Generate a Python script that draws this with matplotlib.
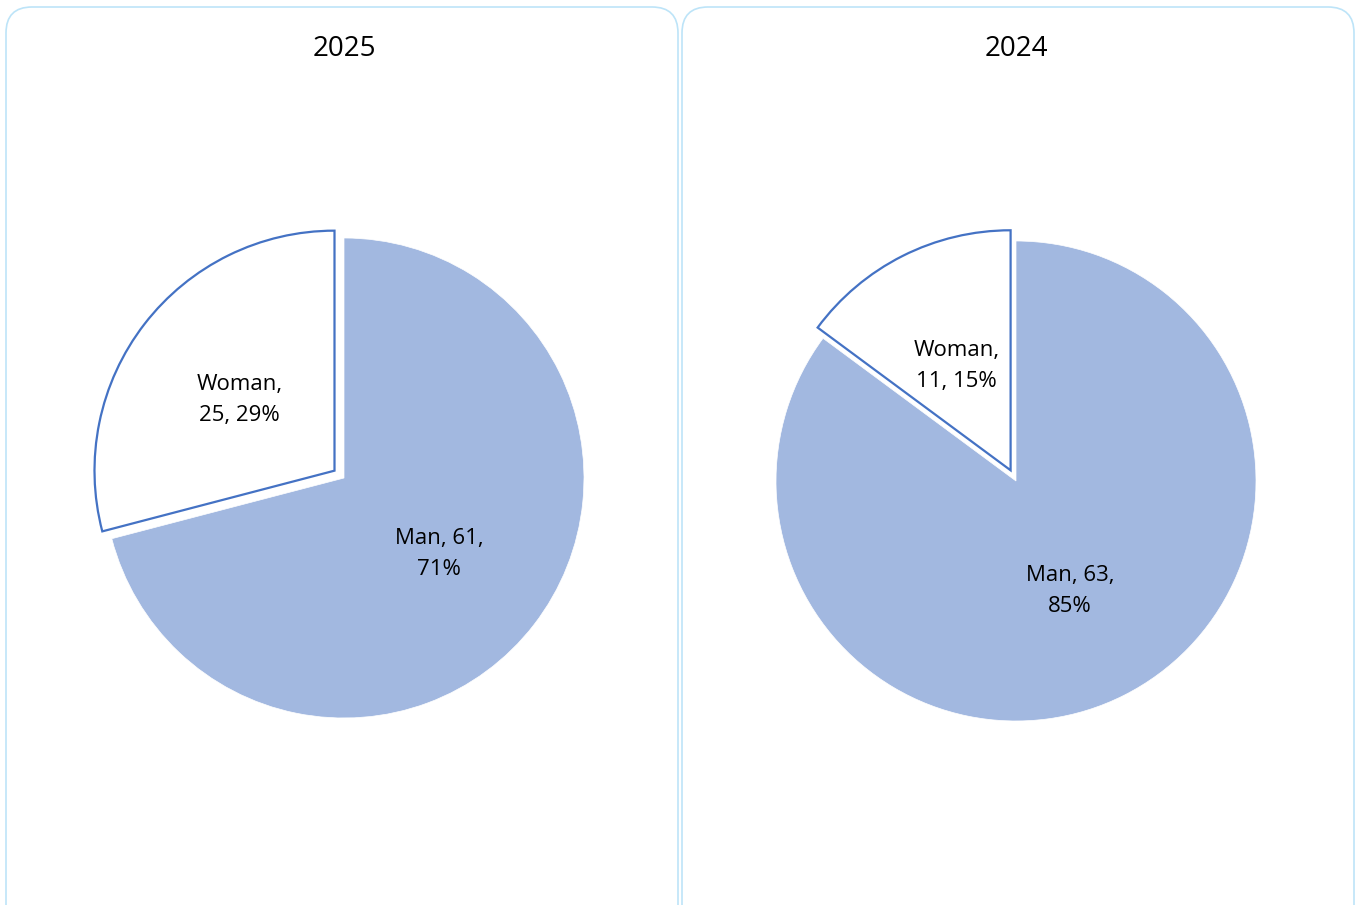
import numpy as np
import matplotlib
matplotlib.use("Agg")
import matplotlib.pyplot as plt
from matplotlib.patches import FancyBboxPatch

W, H = 1362, 905

years = ["2025", "2024"]
categories = ["Man", "Woman"]
counts_2025 = [61, 25]
counts_2024 = [63, 11]
pcts_2025 = [71, 29]
pcts_2024 = [85, 15]

man_color = "#A2B8E0"
line_blue = "#4472C4"
frame_blue = "#BDE4F8"

plt.rcParams["font.family"] = ["Open Sans", "DejaVu Sans"]

fig = plt.figure(figsize=(W / 100, H / 100), dpi=100)
fig.patch.set_facecolor("white")

# background axes in pixel units for the rounded panel frames
bg = fig.add_axes([0, 0, 1, 1], zorder=-1)
bg.set_xlim(0, W)
bg.set_ylim(H, 0)
bg.axis("off")
for x0, x1 in [(6, 678), (682, 1354)]:
    box = FancyBboxPatch((x0, 7), x1 - x0, 940,
                         boxstyle="round,pad=0,rounding_size=26",
                         facecolor="white", edgecolor=frame_blue,
                         linewidth=1.2)
    bg.add_patch(box)


def draw_pie(cx, cy, year, counts, pcts):
    # pie with radius 240px centred at (cx, cy) in image pixels
    ax = fig.add_axes([(cx - 300) / W, (H - cy - 300) / H, 600 / W, 600 / H])
    wedges, _ = ax.pie(counts, startangle=90, counterclock=False,
                       explode=[0, 0.05], radius=1,
                       colors=[man_color, "white"])
    wedges[0].set_edgecolor("white")
    wedges[0].set_linewidth(0.5)
    wedges[1].set_edgecolor(line_blue)
    wedges[1].set_linewidth(1.6)
    for w, cat, n, p in zip(wedges, categories, counts, pcts):
        ang = np.deg2rad((w.theta1 + w.theta2) / 2)
        cxw, cyw = w.center
        x = cxw + 0.5 * np.cos(ang)
        y = cyw + 0.5 * np.sin(ang) - 0.012
        if cat == "Man":
            txt = f"{cat}, {n},\n{p}%"
        else:
            txt = f"{cat},\n{n}, {p}%"
        ax.text(x, y, txt, ha="center", va="center", fontsize=16,
                linespacing=1.6, color="black")
    ax.set_xlim(-1.25, 1.25)
    ax.set_ylim(-1.25, 1.25)
    ax.set_aspect("equal")
    ax.axis("off")
    fig.text(cx / W, 1 - 49 / H, year, ha="center", va="center",
             fontsize=20, color="black")


draw_pie(344, 478, years[0], counts_2025, pcts_2025)
draw_pie(1016, 481, years[1], counts_2024, pcts_2024)

fig.savefig("out.png", dpi=100)
